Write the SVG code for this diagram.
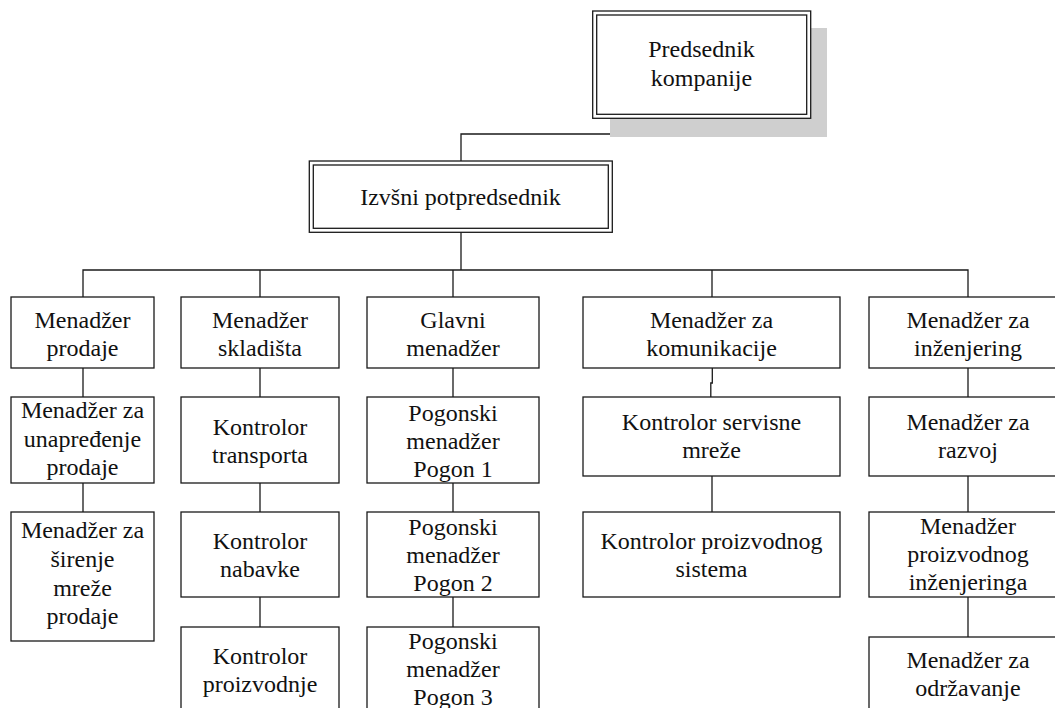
<svg xmlns="http://www.w3.org/2000/svg" width="1055" height="708" viewBox="0 0 1055 708">
  <style>
    .box { fill: #ffffff; stroke: #1a1a1a; stroke-width: 1.3; }
    .inner { fill: none; stroke: #1a1a1a; stroke-width: 1.3; }
    .shadow { fill: #cfcfcf; stroke: none; }
    .wire { fill: none; stroke: #1a1a1a; stroke-width: 1.3; }
    text { font-family: "Liberation Serif", "Times New Roman", serif; font-size: 24px; fill: #111111; text-anchor: middle; }
  </style>
  <rect width="1055" height="708" fill="#ffffff"/>

  <!-- connectors -->
  <g id="connectors">
    <path class="wire" d="M700.7,118 V134 H461 V161"/>
    <path class="wire" d="M461,232 V270"/>
    <path class="wire" d="M83,297 V270 H968 V297"/>
    <path class="wire" d="M260,270 V297"/>
    <path class="wire" d="M453,270 V297"/>
    <path class="wire" d="M712,270 V297"/>
    <!-- sales chain -->
    <path class="wire" d="M83,368 V397"/>
    <path class="wire" d="M83,483 V512"/>
    <!-- warehouse chain -->
    <path class="wire" d="M260,368 V397"/>
    <path class="wire" d="M260,483 V512"/>
    <path class="wire" d="M260,597 V627"/>
    <!-- plant chain -->
    <path class="wire" d="M453,368 V397"/>
    <path class="wire" d="M453,483 V512"/>
    <path class="wire" d="M453,597 V627"/>
    <!-- communications chain -->
    <path class="wire" d="M712.3,368 V383 H710.8 V397"/>
    <path class="wire" d="M712,476 V512"/>
    <!-- engineering chain -->
    <path class="wire" d="M968,368 V397"/>
    <path class="wire" d="M968,476 V512"/>
    <path class="wire" d="M968,597 V637"/>
  </g>

  <!-- top level -->
  <g id="predsednik">
    <rect class="shadow" x="610" y="28" width="217" height="109"/>
    <rect class="box" x="592.7" y="11" width="218" height="107.3"/>
    <rect class="inner" x="596.7" y="15" width="210" height="99.3"/>
    <text x="701.5" y="57">Predsednik</text>
    <text x="701.5" y="85.5">kompanije</text>
  </g>

  <g id="izvrsni">
    <rect class="box" x="309.3" y="161" width="303" height="71.3"/>
    <rect class="inner" x="313.3" y="165" width="295" height="63.3"/>
    <text x="460.5" y="205">Izvšni potpredsednik</text>
  </g>

  <!-- second level -->
  <g id="m-prodaje">
    <rect class="box" x="11" y="297" width="143" height="71"/>
    <text x="82.5" y="328">Menadžer</text>
    <text x="82.5" y="356">prodaje</text>
  </g>
  <g id="m-skladista">
    <rect class="box" x="181" y="297" width="158" height="71"/>
    <text x="260" y="328">Menadžer</text>
    <text x="260" y="356">skladišta</text>
  </g>
  <g id="glavni">
    <rect class="box" x="367" y="297" width="172" height="71"/>
    <text x="453" y="328">Glavni</text>
    <text x="453" y="356">menadžer</text>
  </g>
  <g id="m-komunikacije">
    <rect class="box" x="583" y="297" width="257" height="71"/>
    <text x="711.5" y="328">Menadžer za</text>
    <text x="711.5" y="356">komunikacije</text>
  </g>
  <g id="m-inzenjering">
    <rect class="box" x="869" y="297" width="198" height="71"/>
    <text x="968" y="328">Menadžer za</text>
    <text x="968" y="356">inženjering</text>
  </g>

  <!-- sales column -->
  <g id="m-unapredjenje">
    <rect class="box" x="11" y="397" width="143" height="86"/>
    <text x="82.5" y="418">Menadžer za</text>
    <text x="82.5" y="447">unapređenje</text>
    <text x="82.5" y="475">prodaje</text>
  </g>
  <g id="m-sirenje">
    <rect class="box" x="11" y="512" width="143" height="129"/>
    <text x="82.5" y="538">Menadžer za</text>
    <text x="82.5" y="567">širenje</text>
    <text x="82.5" y="596">mreže</text>
    <text x="82.5" y="624">prodaje</text>
  </g>

  <!-- warehouse column -->
  <g id="k-transporta">
    <rect class="box" x="181" y="397" width="158" height="86"/>
    <text x="260" y="435">Kontrolor</text>
    <text x="260" y="463">transporta</text>
  </g>
  <g id="k-nabavke">
    <rect class="box" x="181" y="512" width="158" height="85"/>
    <text x="260" y="549">Kontrolor</text>
    <text x="260" y="577">nabavke</text>
  </g>
  <g id="k-proizvodnje">
    <rect class="box" x="181" y="627" width="158" height="100"/>
    <text x="260" y="664">Kontrolor</text>
    <text x="260" y="692">proizvodnje</text>
  </g>

  <!-- plant column -->
  <g id="pogon-1">
    <rect class="box" x="367" y="397" width="172" height="86"/>
    <text x="453" y="421">Pogonski</text>
    <text x="453" y="449">menadžer</text>
    <text x="453" y="477">Pogon 1</text>
  </g>
  <g id="pogon-2">
    <rect class="box" x="367" y="512" width="172" height="85"/>
    <text x="453" y="535">Pogonski</text>
    <text x="453" y="563">menadžer</text>
    <text x="453" y="591">Pogon 2</text>
  </g>
  <g id="pogon-3">
    <rect class="box" x="367" y="627" width="172" height="100"/>
    <text x="453" y="649">Pogonski</text>
    <text x="453" y="677">menadžer</text>
    <text x="453" y="705">Pogon 3</text>
  </g>

  <!-- communications column -->
  <g id="k-servisne">
    <rect class="box" x="583" y="397" width="257" height="79"/>
    <text x="711.5" y="430">Kontrolor servisne</text>
    <text x="711.5" y="458">mreže</text>
  </g>
  <g id="k-sistema">
    <rect class="box" x="583" y="512" width="257" height="85"/>
    <text x="711.5" y="549">Kontrolor proizvodnog</text>
    <text x="711.5" y="577">sistema</text>
  </g>

  <!-- engineering column -->
  <g id="m-razvoj">
    <rect class="box" x="869" y="397" width="198" height="79"/>
    <text x="968" y="430">Menadžer za</text>
    <text x="968" y="458">razvoj</text>
  </g>
  <g id="m-proizvodnog">
    <rect class="box" x="869" y="512" width="198" height="85"/>
    <text x="968" y="534">Menadžer</text>
    <text x="968" y="562">proizvodnog</text>
    <text x="968" y="590">inženjeringa</text>
  </g>
  <g id="m-odrzavanje">
    <rect class="box" x="869" y="637" width="198" height="90"/>
    <text x="968" y="668">Menadžer za</text>
    <text x="968" y="696">održavanje</text>
  </g>
</svg>
